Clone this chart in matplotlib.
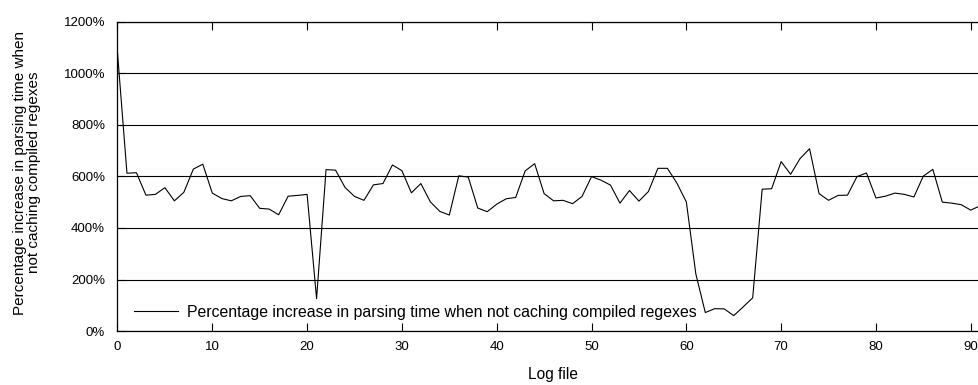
"""Percentage increase in parsing time when compiled regexes are not cached."""

import matplotlib

matplotlib.use("Agg")
import matplotlib.pyplot as plt
import numpy as np
from matplotlib.ticker import FuncFormatter, MultipleLocator

plt.rcParams["font.family"] = ["Liberation Sans", "DejaVu Sans"]

# percentage increase per log file (index = log file number)
increase_pct = [
    1080, 612, 614, 527, 530, 556, 505, 538, 628, 647,
    535, 514, 505, 522, 525, 476, 473, 451, 523, 526,
    530, 126, 626, 624, 557, 522, 507, 567, 572, 644,
    622, 536, 572, 501, 464, 450, 602, 597, 477, 463,
    492, 513, 518, 621, 649, 533, 505, 507, 494, 522,
    599, 585, 566, 496, 545, 504, 541, 631, 631, 574,
    501, 222, 72, 87, 86, 60, 94, 129, 550, 552,
    657, 608, 669, 707, 533, 507, 526, 527, 599, 613,
    516, 523, 535, 530, 520, 601, 627, 500, 496, 490,
    469, 486,
]
log_file = np.arange(len(increase_pct))

series_label = "Percentage increase in parsing time when not caching compiled regexes"
y_label = "Percentage increase in parsing time when\nnot caching compiled regexes"
x_label = "Log file"


def main() -> None:
    fig = plt.figure(figsize=(9.79, 3.85), dpi=100)
    ax = fig.add_axes([0.12, 0.140, 0.92, 0.804])

    ax.plot(log_file, increase_pct, color="black", linewidth=0.8, label=series_label)

    ax.set_xlim(0, 95)
    ax.set_ylim(0, 1200)
    ax.xaxis.set_major_locator(MultipleLocator(10))
    ax.yaxis.set_major_locator(MultipleLocator(200))
    ax.yaxis.set_major_formatter(FuncFormatter(lambda v, _: f"{v:.0f}%"))

    ax.grid(True, axis="y", color="black", linewidth=0.8)
    ax.set_axisbelow(True)
    ax.tick_params(direction="in", length=6, width=0.8, top=True, right=False,
                   labelsize=9.5, pad=7)
    ax.tick_params(axis="y", pad=9)
    for spine in ax.spines.values():
        spine.set_linewidth(0.9)

    # axis labels sit where the original put them (x label is off-centre
    # because the picture was cropped on the right)
    ax.set_xlabel(x_label, fontsize=11.2, va="center")
    ax.xaxis.set_label_coords(0.4836, -0.139)
    ax.set_ylabel(y_label, fontsize=11.0, va="center", linespacing=1.0)
    ax.yaxis.set_label_coords(-0.101, 0.512)

    ax.legend(loc="center left", bbox_to_anchor=(0.018, 0.061), frameon=False,
              fontsize=11.4, handlelength=2.8, handletextpad=0.57,
              borderpad=0, borderaxespad=0)

    fig.savefig("out.png", dpi=100)
    plt.close(fig)


if __name__ == "__main__":
    main()
